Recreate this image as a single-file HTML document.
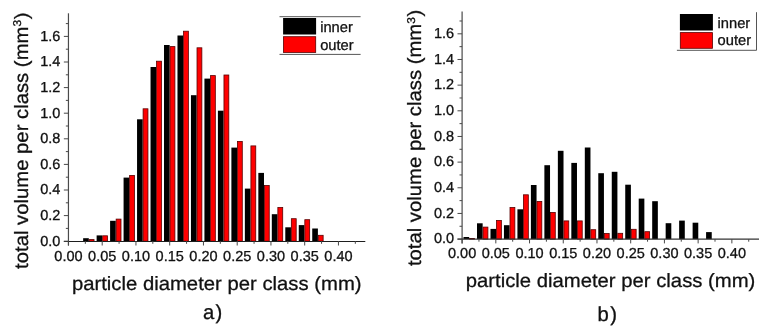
<!DOCTYPE html>
<html><head><meta charset="utf-8"><style>
html,body{margin:0;padding:0;background:#fff;}
body{width:767px;height:334px;overflow:hidden;}
svg{display:block;will-change:transform;filter:blur(0.3px);}
text{font-family:"Liberation Sans",sans-serif;fill:#111;stroke:#111;stroke-width:0.3px;text-rendering:geometricPrecision;}
.t{font-size:14.5px;}
.l{font-size:14.7px;}
.h{font-size:20.3px;}
.sup{font-size:12px;}
</style></head><body>
<svg width="767" height="334" viewBox="0 0 767 334">
<rect width="767" height="334" fill="#fff"/>
<rect x="83.15" y="238.2" width="5.65" height="3" fill="#000"/>
<rect x="89.2" y="239.6" width="4.85" height="1.6" fill="#ff0000" stroke="#5a0000" stroke-width="0.8"/>
<rect x="96.63" y="235.4" width="5.65" height="5.8" fill="#000"/>
<rect x="102.68" y="235.8" width="4.85" height="5.4" fill="#ff0000" stroke="#5a0000" stroke-width="0.8"/>
<rect x="110.1" y="220.8" width="5.65" height="20.4" fill="#000"/>
<rect x="116.15" y="219.1" width="4.85" height="22.1" fill="#ff0000" stroke="#5a0000" stroke-width="0.8"/>
<rect x="123.58" y="177.6" width="5.65" height="63.6" fill="#000"/>
<rect x="129.63" y="175.4" width="4.85" height="65.8" fill="#ff0000" stroke="#5a0000" stroke-width="0.8"/>
<rect x="137.05" y="119.3" width="5.65" height="121.9" fill="#000"/>
<rect x="143.1" y="108.8" width="4.85" height="132.4" fill="#ff0000" stroke="#5a0000" stroke-width="0.8"/>
<rect x="150.53" y="67" width="5.65" height="174.2" fill="#000"/>
<rect x="156.58" y="61.2" width="4.85" height="180" fill="#ff0000" stroke="#5a0000" stroke-width="0.8"/>
<rect x="164.01" y="45" width="5.65" height="196.2" fill="#000"/>
<rect x="170.06" y="46.6" width="4.85" height="194.6" fill="#ff0000" stroke="#5a0000" stroke-width="0.8"/>
<rect x="177.48" y="35.5" width="5.65" height="205.7" fill="#000"/>
<rect x="183.53" y="31.2" width="4.85" height="210" fill="#ff0000" stroke="#5a0000" stroke-width="0.8"/>
<rect x="190.96" y="95.2" width="5.65" height="146" fill="#000"/>
<rect x="197.01" y="47.8" width="4.85" height="193.4" fill="#ff0000" stroke="#5a0000" stroke-width="0.8"/>
<rect x="204.43" y="78.6" width="5.65" height="162.6" fill="#000"/>
<rect x="210.48" y="75.6" width="4.85" height="165.6" fill="#ff0000" stroke="#5a0000" stroke-width="0.8"/>
<rect x="217.91" y="110.7" width="5.65" height="130.5" fill="#000"/>
<rect x="223.96" y="75" width="4.85" height="166.2" fill="#ff0000" stroke="#5a0000" stroke-width="0.8"/>
<rect x="231.39" y="147.6" width="5.65" height="93.6" fill="#000"/>
<rect x="237.44" y="141.4" width="4.85" height="99.8" fill="#ff0000" stroke="#5a0000" stroke-width="0.8"/>
<rect x="244.86" y="188.6" width="5.65" height="52.6" fill="#000"/>
<rect x="250.91" y="145.9" width="4.85" height="95.3" fill="#ff0000" stroke="#5a0000" stroke-width="0.8"/>
<rect x="258.34" y="172.9" width="5.65" height="68.3" fill="#000"/>
<rect x="264.39" y="185.5" width="4.85" height="55.7" fill="#ff0000" stroke="#5a0000" stroke-width="0.8"/>
<rect x="271.81" y="214.2" width="5.65" height="27" fill="#000"/>
<rect x="277.86" y="207.5" width="4.85" height="33.7" fill="#ff0000" stroke="#5a0000" stroke-width="0.8"/>
<rect x="285.29" y="227.3" width="5.65" height="13.9" fill="#000"/>
<rect x="291.34" y="218.7" width="4.85" height="22.5" fill="#ff0000" stroke="#5a0000" stroke-width="0.8"/>
<rect x="298.77" y="225.1" width="5.65" height="16.1" fill="#000"/>
<rect x="304.82" y="219.7" width="4.85" height="21.5" fill="#ff0000" stroke="#5a0000" stroke-width="0.8"/>
<rect x="312.24" y="228.5" width="5.65" height="12.7" fill="#000"/>
<rect x="318.29" y="235.3" width="4.85" height="5.9" fill="#ff0000" stroke="#5a0000" stroke-width="0.8"/>
<path d="M68.45 13.3V245.6" stroke="#4a4a4a" stroke-width="1.2" fill="none"/>
<path d="M63.85 241.5H365.3" stroke="#1e1e1e" stroke-width="1.1" fill="none"/>
<path d="M63.85 241.2H68.45M65.85 228.4H68.45M63.85 215.6H68.45M65.85 202.8H68.45M63.85 190H68.45M65.85 177.2H68.45M63.85 164.4H68.45M65.85 151.6H68.45M63.85 138.8H68.45M65.85 126H68.45M63.85 113.2H68.45M65.85 100.4H68.45M63.85 87.6H68.45M65.85 74.8H68.45M63.85 62H68.45M65.85 49.2H68.45M63.85 36.4H68.45M65.85 23.6H68.45M68.45 241.2V245.5M85.33 241.2V243.8M102.2 241.2V245.5M119.08 241.2V243.8M135.95 241.2V245.5M152.82 241.2V243.8M169.7 241.2V245.5M186.57 241.2V243.8M203.45 241.2V245.5M220.32 241.2V243.8M237.2 241.2V245.5M254.07 241.2V243.8M270.95 241.2V245.5M287.82 241.2V243.8M304.7 241.2V245.5M321.57 241.2V243.8M338.45 241.2V245.5M355.32 241.2V243.8" stroke="#484848" stroke-width="1" fill="none"/>
<text x="60.45" y="245.5" text-anchor="end" class="t">0.0</text>
<text x="60.45" y="219.9" text-anchor="end" class="t">0.2</text>
<text x="60.45" y="194.3" text-anchor="end" class="t">0.4</text>
<text x="60.45" y="168.7" text-anchor="end" class="t">0.6</text>
<text x="60.45" y="143.1" text-anchor="end" class="t">0.8</text>
<text x="60.45" y="117.5" text-anchor="end" class="t">1.0</text>
<text x="60.45" y="91.9" text-anchor="end" class="t">1.2</text>
<text x="60.45" y="66.3" text-anchor="end" class="t">1.4</text>
<text x="60.45" y="40.7" text-anchor="end" class="t">1.6</text>
<text x="68.45" y="260.6" text-anchor="middle" class="t">0.00</text>
<text x="102.2" y="260.6" text-anchor="middle" class="t">0.05</text>
<text x="135.95" y="260.6" text-anchor="middle" class="t">0.10</text>
<text x="169.7" y="260.6" text-anchor="middle" class="t">0.15</text>
<text x="203.45" y="260.6" text-anchor="middle" class="t">0.20</text>
<text x="237.2" y="260.6" text-anchor="middle" class="t">0.25</text>
<text x="270.95" y="260.6" text-anchor="middle" class="t">0.30</text>
<text x="304.7" y="260.6" text-anchor="middle" class="t">0.35</text>
<text x="338.45" y="260.6" text-anchor="middle" class="t">0.40</text>
<rect x="463.52" y="237" width="5.65" height="2.1" fill="#000"/>
<rect x="469.57" y="238.4" width="4.85" height="0.7" fill="#ff0000" stroke="#5a0000" stroke-width="0.8"/>
<rect x="477" y="223.3" width="5.65" height="15.8" fill="#000"/>
<rect x="483.05" y="227.1" width="4.85" height="12" fill="#ff0000" stroke="#5a0000" stroke-width="0.8"/>
<rect x="490.48" y="228.9" width="5.65" height="10.2" fill="#000"/>
<rect x="496.53" y="220.4" width="4.85" height="18.7" fill="#ff0000" stroke="#5a0000" stroke-width="0.8"/>
<rect x="503.95" y="225.2" width="5.65" height="13.9" fill="#000"/>
<rect x="510" y="207.5" width="4.85" height="31.6" fill="#ff0000" stroke="#5a0000" stroke-width="0.8"/>
<rect x="517.43" y="209.3" width="5.65" height="29.8" fill="#000"/>
<rect x="523.48" y="194.8" width="4.85" height="44.3" fill="#ff0000" stroke="#5a0000" stroke-width="0.8"/>
<rect x="530.9" y="185" width="5.65" height="54.1" fill="#000"/>
<rect x="536.95" y="201.4" width="4.85" height="37.7" fill="#ff0000" stroke="#5a0000" stroke-width="0.8"/>
<rect x="544.38" y="165.2" width="5.65" height="73.9" fill="#000"/>
<rect x="550.43" y="212.4" width="4.85" height="26.7" fill="#ff0000" stroke="#5a0000" stroke-width="0.8"/>
<rect x="557.86" y="150.8" width="5.65" height="88.3" fill="#000"/>
<rect x="563.91" y="220.9" width="4.85" height="18.2" fill="#ff0000" stroke="#5a0000" stroke-width="0.8"/>
<rect x="571.33" y="162.9" width="5.65" height="76.2" fill="#000"/>
<rect x="577.38" y="220.9" width="4.85" height="18.2" fill="#ff0000" stroke="#5a0000" stroke-width="0.8"/>
<rect x="584.81" y="147.5" width="5.65" height="91.6" fill="#000"/>
<rect x="590.86" y="229.7" width="4.85" height="9.4" fill="#ff0000" stroke="#5a0000" stroke-width="0.8"/>
<rect x="598.28" y="173.2" width="5.65" height="65.9" fill="#000"/>
<rect x="604.33" y="233.5" width="4.85" height="5.6" fill="#ff0000" stroke="#5a0000" stroke-width="0.8"/>
<rect x="611.76" y="171.8" width="5.65" height="67.3" fill="#000"/>
<rect x="617.81" y="233.3" width="4.85" height="5.8" fill="#ff0000" stroke="#5a0000" stroke-width="0.8"/>
<rect x="625.24" y="184.7" width="5.65" height="54.4" fill="#000"/>
<rect x="631.29" y="229.3" width="4.85" height="9.8" fill="#ff0000" stroke="#5a0000" stroke-width="0.8"/>
<rect x="638.71" y="198.6" width="5.65" height="40.5" fill="#000"/>
<rect x="644.76" y="231.7" width="4.85" height="7.4" fill="#ff0000" stroke="#5a0000" stroke-width="0.8"/>
<rect x="652.19" y="201.2" width="5.65" height="37.9" fill="#000"/>
<rect x="665.66" y="223.2" width="5.65" height="15.9" fill="#000"/>
<rect x="679.14" y="220.6" width="5.65" height="18.5" fill="#000"/>
<rect x="692.62" y="222.7" width="5.65" height="16.4" fill="#000"/>
<rect x="706.09" y="232.1" width="5.65" height="7" fill="#000"/>
<path d="M462.1 11.4V243.5" stroke="#4a4a4a" stroke-width="1.2" fill="none"/>
<path d="M457.5 239.2H759" stroke="#333" stroke-width="1.2" fill="none"/>
<path d="M457.5 239.1H462.1M459.5 226.27H462.1M457.5 213.44H462.1M459.5 200.61H462.1M457.5 187.78H462.1M459.5 174.95H462.1M457.5 162.12H462.1M459.5 149.29H462.1M457.5 136.46H462.1M459.5 123.63H462.1M457.5 110.8H462.1M459.5 97.97H462.1M457.5 85.14H462.1M459.5 72.31H462.1M457.5 59.48H462.1M459.5 46.65H462.1M457.5 33.82H462.1M459.5 20.99H462.1M462.1 239.1V243.4M478.96 239.1V241.7M495.82 239.1V243.4M512.68 239.1V241.7M529.54 239.1V243.4M546.4 239.1V241.7M563.26 239.1V243.4M580.12 239.1V241.7M596.98 239.1V243.4M613.84 239.1V241.7M630.7 239.1V243.4M647.56 239.1V241.7M664.42 239.1V243.4M681.28 239.1V241.7M698.14 239.1V243.4M715 239.1V241.7M731.86 239.1V243.4M748.72 239.1V241.7" stroke="#484848" stroke-width="1" fill="none"/>
<text x="454.1" y="243.4" text-anchor="end" class="t">0.0</text>
<text x="454.1" y="217.74" text-anchor="end" class="t">0.2</text>
<text x="454.1" y="192.08" text-anchor="end" class="t">0.4</text>
<text x="454.1" y="166.42" text-anchor="end" class="t">0.6</text>
<text x="454.1" y="140.76" text-anchor="end" class="t">0.8</text>
<text x="454.1" y="115.1" text-anchor="end" class="t">1.0</text>
<text x="454.1" y="89.44" text-anchor="end" class="t">1.2</text>
<text x="454.1" y="63.78" text-anchor="end" class="t">1.4</text>
<text x="454.1" y="38.12" text-anchor="end" class="t">1.6</text>
<text x="462.1" y="257.9" text-anchor="middle" class="t">0.00</text>
<text x="495.82" y="257.9" text-anchor="middle" class="t">0.05</text>
<text x="529.54" y="257.9" text-anchor="middle" class="t">0.10</text>
<text x="563.26" y="257.9" text-anchor="middle" class="t">0.15</text>
<text x="596.98" y="257.9" text-anchor="middle" class="t">0.20</text>
<text x="630.7" y="257.9" text-anchor="middle" class="t">0.25</text>
<text x="664.42" y="257.9" text-anchor="middle" class="t">0.30</text>
<text x="698.14" y="257.9" text-anchor="middle" class="t">0.35</text>
<text x="731.86" y="257.9" text-anchor="middle" class="t">0.40</text>
<rect x="283.1" y="18" width="33" height="16.5" fill="#000"/>
<rect x="283.5" y="36.7" width="32.2" height="15.7" fill="#ff0000" stroke="#5a0000" stroke-width="0.8"/>
<text x="320.2" y="31.7" class="l">inner</text>
<text x="320.2" y="49.5" class="l">outer</text>
<path d="M279.5 16.7H360.6M279.5 54.4H360.6" stroke="#555" stroke-width="1" fill="none"/>
<rect x="679.9" y="14" width="33" height="16.5" fill="#000"/>
<rect x="680.3" y="32.6" width="32.2" height="15.7" fill="#ff0000" stroke="#5a0000" stroke-width="0.8"/>
<text x="717.6" y="27.5" class="l">inner</text>
<text x="717.6" y="45.4" class="l">outer</text>
<path d="M756.5 12.2V50.3H676.9" stroke="#555" stroke-width="1" fill="none"/>
<text transform="translate(71.9 290) scale(1 0.95)" class="h">particle diameter per class (mm)</text>
<text transform="translate(27.6 268.9) rotate(-90) scale(1 0.95)" class="h">total volume per class (mm<tspan class="sup" dy="-6.9">3</tspan><tspan dx="0.6" dy="6.9">)</tspan></text>
<text x="202.9" y="319" class="h">a<tspan dx="1.4">)</tspan></text>
<text transform="translate(465.7 287.2) scale(1 0.95)" class="h">particle diameter per class (mm)</text>
<text transform="translate(421.4 266.1) rotate(-90) scale(1 0.95)" class="h">total volume per class (mm<tspan class="sup" dy="-6.9">3</tspan><tspan dx="0.6" dy="6.9">)</tspan></text>
<text x="597.6" y="320.5" class="h">b<tspan dx="1.4">)</tspan></text>
</svg>
</body></html>
